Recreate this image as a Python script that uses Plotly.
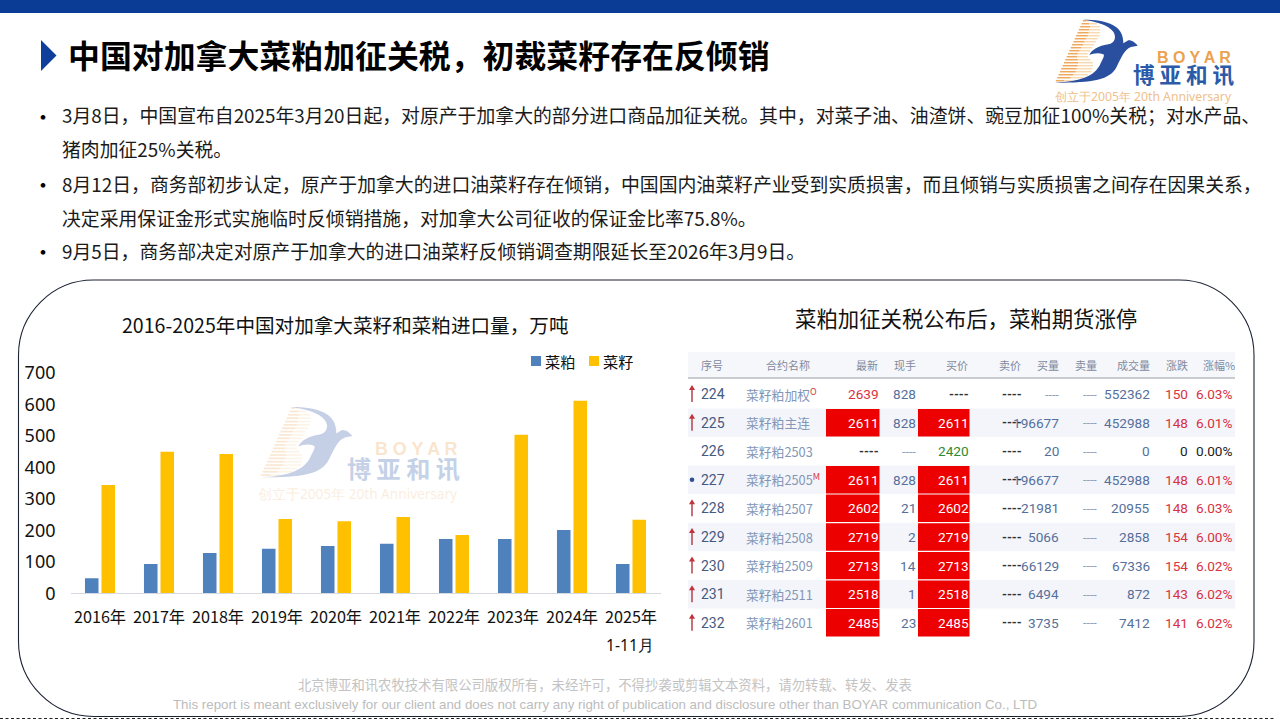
import numpy as np
import plotly.graph_objects as go

# ---- chart data (10k tonnes) ----
YEARS = ["2016年", "2017年", "2018年", "2019年", "2020年", "2021年", "2022年", "2023年", "2024年", "2025年"]
MEAL = [48, 93, 128, 141, 150, 157, 172, 172, 201, 93]
SEED = [344, 449, 442, 236, 229, 242, 185, 503, 611, 233]
Y_TICKS = [0, 100, 200, 300, 400, 500, 600, 700]

# ---- futures quote table ----
HEADERS = ["序号", "合约名称", "最新", "现手", "买价", "卖价", "买量", "卖量", "成交量", "涨跌", "涨幅%"]
ROW_NO = ["224", "225", "226", "227", "228", "229", "230", "231", "232"]
ROW_NAME = ["菜籽粕加权", "菜籽粕主连", "菜籽粕2503", "菜籽粕2505", "菜籽粕2507", "菜籽粕2508", "菜籽粕2509", "菜籽粕2511", "菜籽粕2601"]
ROW_LAST = ["2639", "2611", "----", "2611", "2602", "2719", "2713", "2518", "2485"]
ROW_HAND = ["828", "828", "----", "828", "21", "2", "14", "1", "23"]
ROW_BID = ["----", "2611", "2420", "2611", "2602", "2719", "2713", "2518", "2485"]
ROW_ASK = ["----"] * 9
ROW_BIDV = ["----", "196677", "20", "196677", "21981", "5066", "66129", "6494", "3735"]
ROW_ASKV = ["----"] * 9
ROW_VOL = ["552362", "452988", "0", "452988", "20955", "2858", "67336", "872", "7412"]
ROW_CHG = ["150", "148", "0", "148", "148", "154", "154", "143", "141"]
ROW_PCT = ["6.03%", "6.01%", "0.00%", "6.01%", "6.03%", "6.00%", "6.02%", "6.02%", "6.02%"]
ROW_MARK = ["arrow", "arrow", "", "dot", "arrow", "arrow", "arrow", "arrow", "arrow"]
ROW_SUP = {0: "O", 3: "M"}

# ---- slide text ----
TITLE = "中国对加拿大菜粕加征关税，初裁菜籽存在反倾销"
BODY = [
    ("3月8日，中国宣布自2025年3月20日起，对原产于加拿大的部分进口商品加征关税。其中，对菜子油、油渣饼、豌豆加征100%关税；对水产品、", 115, True),
    ("猪肉加征25%关税。", 149, False),
    ("8月12日，商务部初步认定，原产于加拿大的进口油菜籽存在倾销，中国国内油菜籽产业受到实质损害，而且倾销与实质损害之间存在因果关系，", 183, True),
    ("决定采用保证金形式实施临时反倾销措施，对加拿大公司征收的保证金比率75.8%。", 217, False),
    ("9月5日，商务部决定对原产于加拿大的进口油菜籽反倾销调查期限延长至2026年3月9日。", 250, True),
]
CHART_TITLE = "2016-2025年中国对加拿大菜籽和菜粕进口量，万吨"
TABLE_TITLE = "菜粕加征关税公布后，菜粕期货涨停"
FOOT_CN = "北京博亚和讯农牧技术有限公司版权所有，未经许可，不得抄袭或剪辑文本资料，请勿转载、转发、发表"
FOOT_EN = "This report is meant exclusively for our client and does not carry any right of publication and disclosure other than BOYAR communication Co., LTD"

W, H = 1280, 720
CJK = "Noto Sans CJK SC"
NAVY = "#0b3c95"
BLUE = "#4f81bd"
GOLD = "#ffc000"
annotations, shapes = [], []


def px(x):
    return x / W


def py(y):
    return 1 - y / H


def text(x, y, s, size, color="#000000", anchor="left", font=CJK, bold=False, opacity=1.0):
    annotations.append(dict(
        x=px(x), y=py(y), xref="paper", yref="paper", text=f"<b>{s}</b>" if bold else s,
        showarrow=False, xanchor=anchor, yanchor="middle", opacity=opacity,
        font=dict(size=size, color=color, family=font), borderpad=0, borderwidth=0,
    ))


def rect(x0, y0, x1, y1, fill, layer="below", opacity=1.0):
    shapes.append(dict(type="rect", xref="paper", yref="paper", x0=px(x0), x1=px(x1),
                       y0=py(y0), y1=py(y1), fillcolor=fill, line_width=0, layer=layer, opacity=opacity))


def path(cmds, fill=None, line=None, width=0, opacity=1.0, dash=None, layer="below"):
    parts = []
    for c, pts in cmds:
        if c == "L":
            parts.extend(f"L{px(a):.6f},{py(b):.6f}" for a, b in pts)
        else:
            coords = " ".join(f"{px(a):.6f},{py(b):.6f}" for a, b in pts)
            parts.append(f"{c}{coords}")
    shapes.append(dict(type="path", xref="paper", yref="paper", path=" ".join(parts) + (" Z" if fill else ""),
                       fillcolor=fill or "rgba(0,0,0,0)", opacity=opacity, layer=layer,
                       line=dict(color=line or "rgba(0,0,0,0)", width=width, dash=dash or "solid")))


def logo(ox, oy, s, opacity):
    """Draws the company mark: striped wing, blue bird and the three text lines."""
    def m(a, b):
        return (ox + (a - 15) / 3 * s, oy + (b - 14) / 3 * s)

    stripe_y = np.arange(17, 202, 9)
    right_y = [14, 30, 60, 100, 120, 145, 170, 190, 201]
    right_x = [110, 150, 150, 125, 110, 130, 125, 100, 50]
    for y in stripe_y:
        left = 100 - (y - 14) * 85 / 189
        right = float(np.interp(y, right_y, right_x))
        mid = (left + right) / 2
        path([("M", [m(left, y)]), ("L", [m(mid, y)])], line="#eea95c", width=1.5 * s, opacity=opacity)
        path([("M", [m(mid, y)]), ("L", [m(right, y)])], line="#f8d9b0", width=1.5 * s, opacity=opacity)

    path([
        ("M", [m(100, 14)]),
        ("C", [m(170, 14), m(222, 30), m(220, 85)]),
        ("L", [m(235, 76)]),
        ("C", [m(248, 76), m(256, 84), m(263, 92)]),
        ("L", [m(243, 96)]),
        ("C", [m(225, 102), m(215, 125), m(200, 155)]),
        ("C", [m(180, 195), m(130, 203), m(15, 203)]),
        ("C", [m(90, 200), m(135, 185), m(152, 145)]),
        ("C", [m(158, 132), m(165, 122), m(160, 118)]),
        ("C", [m(145, 112), m(130, 115), m(118, 120)]),
        ("C", [m(125, 105), m(145, 92), m(175, 88)]),
        ("C", [m(195, 84), m(200, 65), m(190, 50)]),
        ("C", [m(175, 30), m(140, 20), m(100, 14)]),
    ], fill="#2a4f9f", opacity=opacity)

    bx, by = ox + 176 * s, oy + 37.8 * s
    text(bx, by, "B O Y A R", 16 * s, "#eba24f", "right", font="Liberation Sans", bold=True, opacity=opacity)
    text(ox + 179 * s, oy + 54 * s, "博 亚 和 讯", 21.6 * s, "#2a5aa8", "right", bold=True, opacity=opacity)
    text(ox + 176.5 * s, oy + 77 * s, "创立于2005年 20th Anniversary", 12.2 * s, "#efc08c", "right", font="Noto Sans", opacity=opacity)


# ---- slide furniture ----
rect(0, 0, W, 13, NAVY)
path([("M", [(41, 40)]), ("L", [(56.5, 55.5), (41, 71)])], fill="#0f3f9a")
text(68, 54, TITLE, 31.9, "#000000", bold=True)
logo(1055, 19.7, 1.0, 1.0)
logo(260, 407, 1.117, 0.27)

for line, y, bullet in BODY:
    if bullet:
        text(32, y, "•", 22)
    text(62, y, line, 18.85, "#1a1a1a")

# rounded panel around both exhibits
L, T, R, B, r = 18.5, 280, 1254, 716.5, 75
k = r * 0.45
path([
    ("M", [(L + r, T)]), ("L", [(R - r, T)]),
    ("C", [(R - k, T), (R, T + k), (R, T + r)]), ("L", [(R, B - r)]),
    ("C", [(R, B - k), (R - k, B), (R - r, B)]), ("L", [(L + r, B)]),
    ("C", [(L + k, B), (L, B - k), (L, B - r)]), ("L", [(L, T + r)]),
    ("C", [(L, T + k), (L + k, T), (L + r, T)]),
], line="#1c2333", width=1.1)
shapes.append(dict(type="line", xref="paper", yref="paper", x0=0, x1=px(1276), y0=py(718.5), y1=py(718.5),
                   line=dict(color="#222222", width=1.2, dash="3px,2.5px"), layer="below"))

text(345, 324.5, CHART_TITLE, 19.6, "#111111", "center")
text(965.5, 317.5, TABLE_TITLE, 21.4, "#111111", "center")

# hand-placed legend with tight swatch spacing
for x, col, name in [(531, BLUE, "菜粕"), (589, GOLD, "菜籽")]:
    rect(x, 356, x + 10, 366, col)
    text(x + 14, 360.5, name, 15.2, "#111111")
text(630, 645, "1-11月", 15.7, "#111111", "center", font="Noto Sans")

# ---- quote table ----
TBL_L, TBL_R = 688, 1235
ROW_Y = [394, 422.7, 451.2, 479.8, 508.3, 537, 565.6, 594.2, 622.8]
RH = 28.6
NUM = "Roboto"
DARK, SLATE, GREY = "#333a4a", "#56709b", "#7f8aa0"
RED, GREEN = "#d8323f", "#2f8a30"
COL_RIGHT = {"last": 879, "hand": 916, "bid": 969, "ask": 1022, "bidv": 1059, "askv": 1097, "vol": 1150, "chg": 1188, "pct": 1233}
HEAD_POS = [(701, "left"), (766, "left"), (878, "right"), (916, "right"), (968, "right"), (1021, "right"),
            (1059, "right"), (1097, "right"), (1150, "right"), (1188, "right"), (1235, "right")]

rect(TBL_L, 352, TBL_R, 378, "#f6f7fb")
shapes.append(dict(type="line", xref="paper", yref="paper", x0=px(TBL_L), x1=px(TBL_R), y0=py(378), y1=py(378),
                   line=dict(color="#b9bcc2", width=1.6), layer="below"))
for (x, a), h in zip(HEAD_POS, HEADERS):
    text(x, 365, h, 11, GREY, a)

for i, y in enumerate(ROW_Y):
    if i % 2 == 1:
        rect(TBL_L, y - RH / 2, TBL_R, y + RH / 2, "#f4f5fa")
    if ROW_LAST[i] != "----" and i != 0:
        rect(826, y - RH / 2 + 0.6, 879.5, y + RH / 2 - 0.6, "#ec0000")
    if ROW_BID[i] != "----" and i not in (0, 2):
        rect(918, y - RH / 2 + 0.6, 969.5, y + RH / 2 - 0.6, "#ec0000")

    if ROW_MARK[i] == "arrow":
        shapes.append(dict(type="line", xref="paper", yref="paper", x0=px(692), x1=px(692),
                           y0=py(y - 5), y1=py(y + 8), line=dict(color="#b5404a", width=1.5)))
        path([("M", [(692, y - 9)]), ("L", [(695, y - 4), (689, y - 4)])], fill="#c62f3a")
    elif ROW_MARK[i] == "dot":
        shapes.append(dict(type="circle", xref="paper", yref="paper", x0=px(689.7), x1=px(694.3),
                           y0=py(y - 2.3), y1=py(y + 2.3), fillcolor="#2f4f8f", line_width=0))

    text(701, y, ROW_NO[i], 14, "#46597f", font=NUM)
    name = ROW_NAME[i]
    if i in ROW_SUP:
        name += f"<sup><span style='color:#d8323f'>{ROW_SUP[i]}</span></sup>"
    text(745.5, y, name, 12.8, "#8496b6")

    def cell(key, val, filled_color):
        if val == "----":
            col = "#333333" if key in ("last", "bid", "ask") else "#8fa3c0"
            text(COL_RIGHT[key], y, val, 12.5, col, "right", font=NUM, bold=key in ("last", "bid", "ask"))
        else:
            text(COL_RIGHT[key], y, val, 13.6, filled_color, "right", font=NUM)

    last_col = RED if i == 0 else "#ffffff"
    bid_col = GREEN if i == 2 else "#ffffff"
    cell("last", ROW_LAST[i], last_col)
    cell("hand", ROW_HAND[i], SLATE)
    cell("bid", ROW_BID[i], bid_col)
    cell("ask", ROW_ASK[i], DARK)
    cell("bidv", ROW_BIDV[i], SLATE)
    cell("askv", ROW_ASKV[i], SLATE)
    cell("vol", ROW_VOL[i], SLATE)
    flat = ROW_CHG[i] == "0"
    cell("chg", ROW_CHG[i], "#222222" if flat else RED)
    cell("pct", ROW_PCT[i], "#222222" if flat else RED)

# ---- footer ----
text(605, 684, FOOT_CN, 13.35, "#c3c3c3", "center")
text(604.5, 704, FOOT_EN, 13.3, "#bcbcbc", "center", font="Liberation Sans")

# ---- bar chart ----
fig = go.Figure()
fig.add_bar(x=YEARS, y=MEAL, name="菜粕", marker_color=BLUE, marker_line_width=0)
fig.add_bar(x=YEARS, y=SEED, name="菜籽", marker_color=GOLD, marker_line_width=0)

BASE_Y, TOP_Y = 593.3, 372.7
fig.update_layout(
    width=W, height=H, margin=dict(l=0, r=0, t=0, b=0, pad=0),
    paper_bgcolor="#ffffff", plot_bgcolor="rgba(0,0,0,0)",
    barmode="group", bargap=0.44, bargroupgap=0.18, showlegend=False,
    font=dict(family=CJK),
    xaxis=dict(
        domain=[px(70.5), px(660.5)], type="category", showgrid=False, zeroline=False,
        showline=True, linecolor="#d6d9e2", linewidth=1.3, ticks="", ticklabelstandoff=9,
        tickfont=dict(size=16.2, color="#111111", family="Noto Sans CJK SC"), automargin=False,
    ),
    yaxis=dict(
        domain=[py(BASE_Y), py(TOP_Y)], range=[0, 700], tickvals=Y_TICKS, showgrid=False, zeroline=False,
        showline=False, ticks="", ticklabelstandoff=14,
        tickfont=dict(size=18, color="#111111", family="Noto Sans"), automargin=False,
    ),
    annotations=annotations, shapes=shapes,
)
fig.write_html("out.html")
